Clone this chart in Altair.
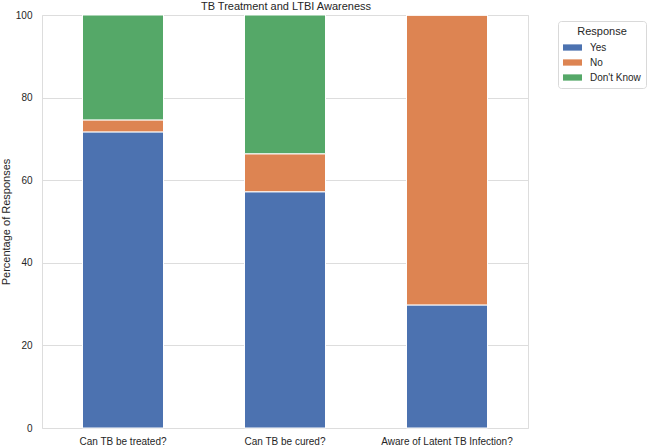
import altair as alt
import pandas as pd

title_text = "TB Treatment and LTBI Awareness"
questions = ["Can TB be treated?", "Can TB be cured?", "Aware of Latent TB Infection?"]
responses = ["Yes", "No", "Don't Know"]
yes_vals = [71.7, 57.2, 29.8]
no_vals = [2.9, 9.2, 70.2]
dk_vals = [25.4, 33.6, 0.0]
colors = ["#4C72B0", "#DD8452", "#55A868"]

rows = []
for i, q in enumerate(questions):
    for j, (r, vals) in enumerate(zip(responses, [yes_vals, no_vals, dk_vals])):
        rows.append({"Question": q, "Response": r, "Percent": vals[i], "order": j})
df = pd.DataFrame(rows)

FONT = "Liberation Sans"
TXT = "#262626"

bars = alt.Chart(df).mark_bar(stroke="white", strokeWidth=1).encode(
    x=alt.X("Question:N", sort=questions, title=None,
            scale=alt.Scale(paddingInner=0.5, paddingOuter=0.25),
            axis=alt.Axis(labelAngle=0, labelFontSize=10, labelFont=FONT, labelColor=TXT,
                          ticks=False, domain=False, grid=False, labelPadding=8)),
    y=alt.Y("Percent:Q", stack="zero", title="Percentage of Responses",
            scale=alt.Scale(domain=[0, 100], nice=False),
            axis=alt.Axis(values=[0, 20, 40, 60, 80, 100], labelFontSize=10, labelFont=FONT,
                          labelColor=TXT, titleFont=FONT, titleFontSize=11,
                          titleFontWeight="normal", titleColor=TXT,
                          ticks=False, domain=False, gridColor="#dddddd", gridWidth=1,
                          labelPadding=10, titlePadding=4)),
    color=alt.Color("Response:N", sort=responses,
                    scale=alt.Scale(domain=responses, range=colors),
                    legend=alt.Legend(title="Response", orient="none", legendX=516, legendY=6,
                                      titleFont=FONT, titleFontSize=11, titleFontWeight="normal",
                                      titleColor=TXT, titleAnchor="middle", titlePadding=1,
                                      labelFont=FONT, labelFontSize=10, labelColor=TXT,
                                      symbolType="M-1,-0.33L1,-0.33L1,0.33L-1,0.33Z",
                                      symbolSize=361, symbolStrokeWidth=0, labelOffset=8,
                                      strokeColor="#d9d9d9", fillColor="white", cornerRadius=3,
                                      padding=5, rowPadding=-4)),
    order=alt.Order("order:Q", sort="ascending"),
)

title = alt.Chart(pd.DataFrame({"t": [title_text]})).mark_text(
    font=FONT, fontSize=11, color=TXT, align="center", baseline="middle"
).encode(text="t:N", x=alt.value(244), y=alt.value(-8))

chart = alt.layer(bars, title).properties(
    width=486, height=413,
    autosize=alt.AutoSizeParams(type="none"),
    padding={"left": 42, "top": 15, "right": 122, "bottom": 19},
).configure_view(stroke="#d0d0d0", strokeWidth=1).configure(background="white")

chart.save("out.html", embed_options={"renderer": "svg", "actions": False})
